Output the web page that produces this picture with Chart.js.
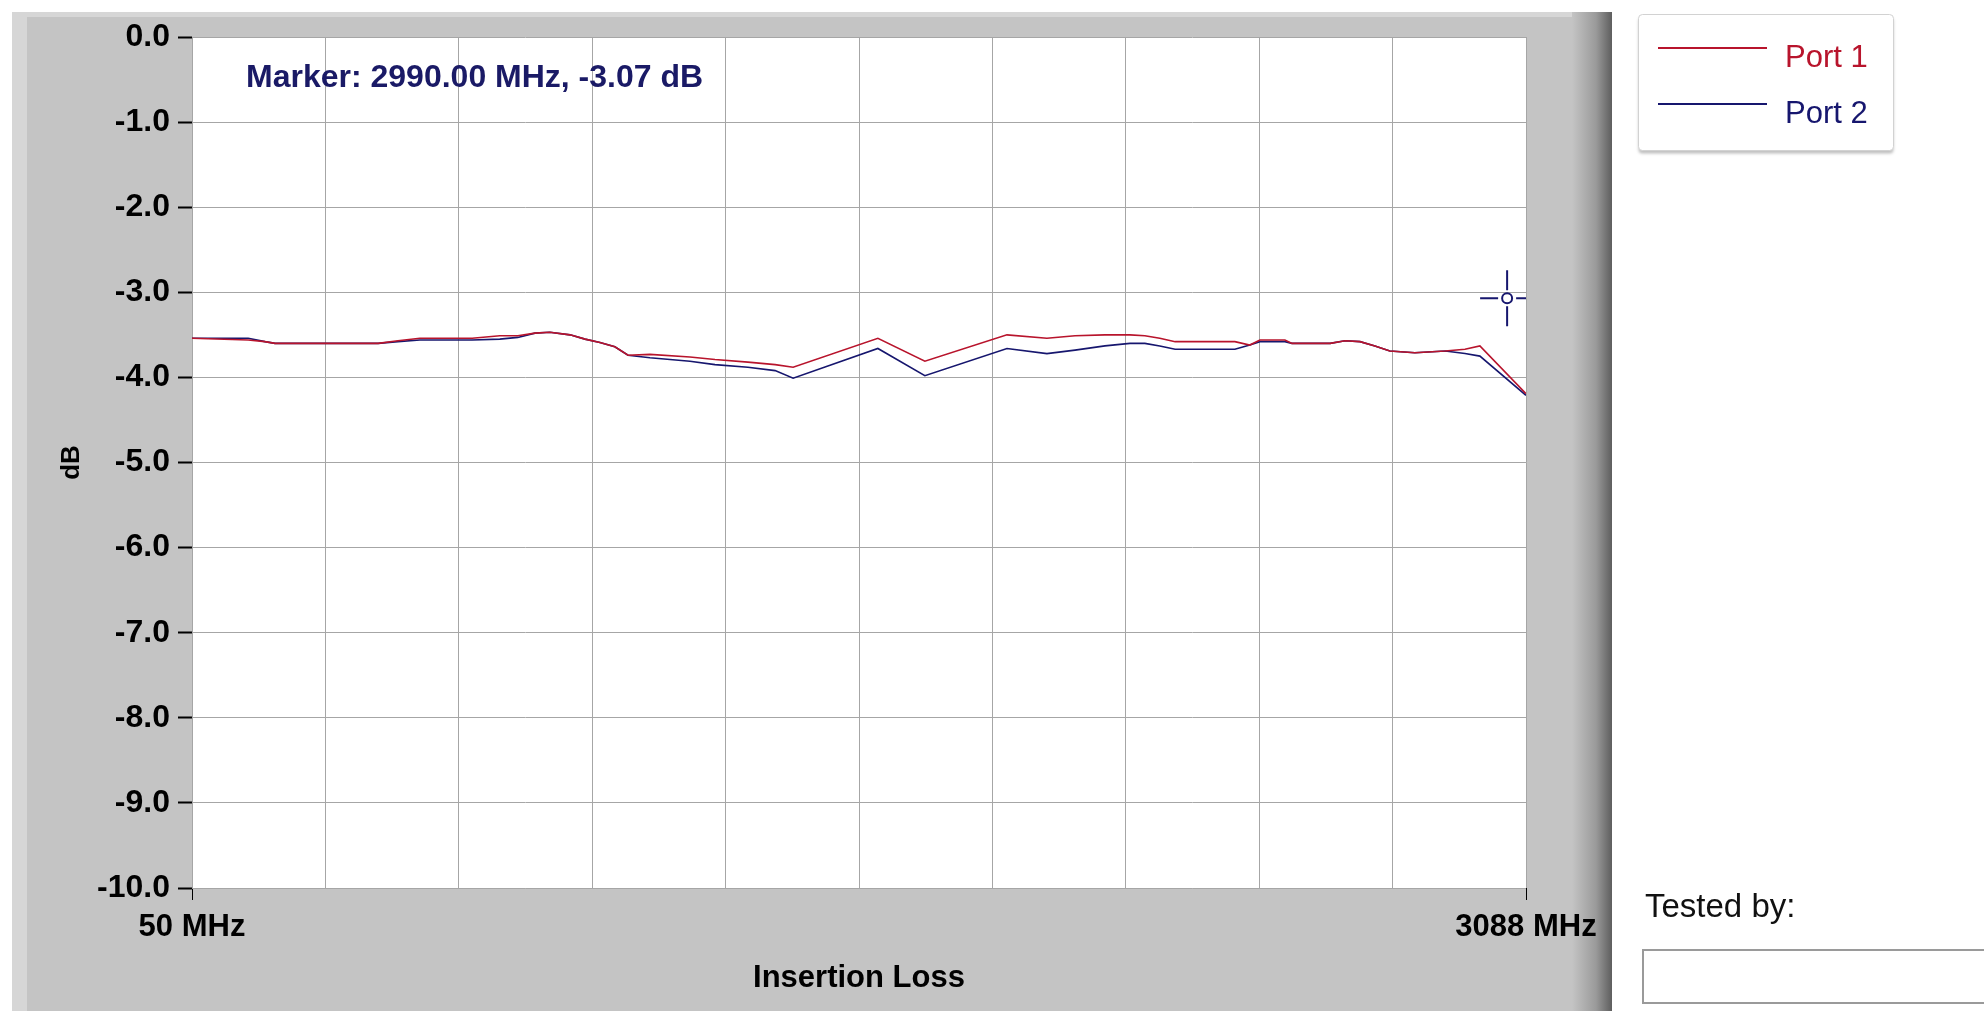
<!DOCTYPE html>
<html lang="en">
<head>
    <meta charset="UTF-8">
    <title>Insertion Loss</title>
    <script src="https://cdn.jsdelivr.net/npm/chart.js"></script>
    <style>
        body{
            margin:0;
            background:#fff;
            overflow:hidden;
        }
        #wrap{ position:relative; width:1984px; height:1011px; }
        #tested{
            position:absolute; left:1645px; top:887px;
            font-family:'Liberation Sans', Arial, sans-serif; font-size:33px; color:#111;
        }
        #testedBox{
            position:absolute; left:1642px; top:949px; width:360px; height:55px;
            border:2px solid #9a9a9a; background:#fff; box-sizing:border-box;
        }
    </style>
</head>
<body>
<div id="wrap">
    <canvas id="myChart" width="1984" height="1011"></canvas>
    <div id="tested">Tested by:</div>
    <div id="testedBox"></div>
</div>

<script>
    const freqMHz = [50, 178, 216, 239, 474, 519, 569, 688, 751, 792, 831, 865, 911, 945, 979, 1013, 1043,
        1093, 1184, 1241, 1316, 1378, 1419, 1612, 1719, 1906, 1997, 2061, 2129, 2186, 2220, 2254, 2289,
        2425, 2459, 2482, 2539, 2555, 2642, 2676, 2710, 2744, 2778, 2835, 2904, 2949, 2983, 3088]
    const port1 = [-3.54, -3.56, -3.58, -3.60, -3.60, -3.57, -3.54, -3.54, -3.51, -3.51, -3.48, -3.47, -3.50, -3.55, -3.59, -3.64, -3.74,
        -3.73, -3.76, -3.79, -3.82, -3.85, -3.88, -3.54, -3.81, -3.50, -3.54, -3.51, -3.50, -3.50, -3.51, -3.54, -3.58,
        -3.58, -3.62, -3.56, -3.56, -3.60, -3.60, -3.57, -3.58, -3.63, -3.69, -3.71, -3.69, -3.67, -3.63, -4.19]
    const port2 = [-3.54, -3.54, -3.58, -3.60, -3.60, -3.58, -3.56, -3.56, -3.55, -3.53, -3.48, -3.47, -3.50, -3.55, -3.59, -3.64, -3.74,
        -3.77, -3.81, -3.85, -3.88, -3.92, -4.01, -3.66, -3.98, -3.66, -3.72, -3.68, -3.63, -3.60, -3.60, -3.63, -3.67,
        -3.67, -3.62, -3.58, -3.58, -3.60, -3.60, -3.57, -3.58, -3.63, -3.69, -3.71, -3.69, -3.72, -3.75, -4.21]

    const seriesNames = ['Port 1', 'Port 2']
    const xTicks = [50, 353.8, 657.6, 961.4, 1265.2, 1569, 1872.8, 2176.6, 2480.4, 2784.2, 3088]
    const yMin = -10, yMax = 0
    const markerLabel = 'Marker: 2990.00 MHz, -3.07 dB'
    const markerAt = { x: 3045, y: -3.07 }   // where the cursor sits on the plot

    const sans = "'Liberation Sans', Arial, sans-serif"
    const red = '#b8142c'
    const navy = '#16166e'

    // gray LabVIEW style panel behind the plot
    const panelBg = {
        id:'panelBg',
        beforeDraw(chart){
            const c = chart.ctx, a = chart.chartArea
            c.save()
            c.fillStyle = '#fff'
            c.fillRect(0, 0, chart.width, chart.height)
            c.fillStyle = '#c4c4c4'
            c.fillRect(12, 12, 1600, 1000)
            c.fillStyle = '#d6d6d6'
            c.fillRect(12, 12, 15, 1000)
            c.fillRect(12, 12, 1600, 5)
            let g = c.createLinearGradient(1572, 0, 1612, 0)
            g.addColorStop(0, '#c4c4c4')
            g.addColorStop(0.6, '#9a9a9a')
            g.addColorStop(1, '#5e5e5e')
            c.fillStyle = g
            c.fillRect(1572, 12, 40, 1000)
            c.fillStyle = '#fff'
            c.fillRect(a.left, a.top, a.right - a.left, a.bottom - a.top)
            c.restore()
        }
    }

    // marker text and crosshair cursor
    const markerPlugin = {
        id:'markerPlugin',
        afterDatasetsDraw(chart){
            const c = chart.ctx, a = chart.chartArea
            const px = chart.scales.x.getPixelForValue(markerAt.x)
            const py = chart.scales.y.getPixelForValue(markerAt.y)
            c.save()
            c.beginPath()
            c.rect(a.left, a.top, a.right - a.left, a.bottom - a.top)
            c.clip()
            c.strokeStyle = navy
            c.lineWidth = 2
            c.beginPath()
            c.arc(px, py, 5, 0, Math.PI * 2)
            c.moveTo(px - 9, py); c.lineTo(px - 27, py)
            c.moveTo(px + 9, py); c.lineTo(px + 27, py)
            c.moveTo(px, py - 8); c.lineTo(px, py - 28)
            c.moveTo(px, py + 8); c.lineTo(px, py + 28)
            c.stroke()
            c.restore()

            c.save()
            c.fillStyle = '#1a1a66'
            c.font = 'bold 32px ' + sans
            c.textBaseline = 'middle'
            c.fillText(markerLabel, 246, 78)
            c.restore()
        }
    }

    // legend box to the right of the panel
    const legendBox = {
        id:'legendBox',
        afterDraw(chart){
            const c = chart.ctx
            c.save()
            c.shadowColor = 'rgba(0,0,0,0.25)'
            c.shadowOffsetY = 3
            c.shadowBlur = 3
            c.fillStyle = '#fff'
            c.beginPath()
            c.roundRect(1638.5, 14.5, 255, 136, 4)
            c.fill()
            c.shadowColor = 'transparent'
            c.strokeStyle = '#d2d2d2'
            c.lineWidth = 1
            c.stroke()
            chart.data.datasets.forEach((ds, i) => {
                const y = 48 + i * 56
                c.strokeStyle = ds.borderColor
                c.lineWidth = 2
                c.beginPath()
                c.moveTo(1658, y); c.lineTo(1767, y)
                c.stroke()
                c.fillStyle = ds.borderColor
                c.font = '31px ' + sans
                c.textBaseline = 'middle'
                c.fillText(ds.label, 1785, y + 10)
            })
            c.restore()
        }
    }

    const ctx = document.getElementById('myChart')
    const myChart = new Chart(ctx, {
        type:'line',
        data:{
            datasets:[
                { label: seriesNames[0], data: freqMHz.map((f, i) => ({ x: f, y: port1[i] })),
                  borderColor: red, borderWidth: 1.6, pointRadius: 0, tension: 0 },
                { label: seriesNames[1], data: freqMHz.map((f, i) => ({ x: f, y: port2[i] })),
                  borderColor: navy, borderWidth: 1.6, pointRadius: 0, tension: 0 }
            ]
        },
        options:{
            responsive:false,
            animation:false,
            devicePixelRatio:1,
            layout:{ padding:{ left:0, top:37, right:458, bottom:0 } },
            plugins:{ legend:{ display:false }, tooltip:{ enabled:false } },
            scales:{
                x:{
                    type:'linear', min:50, max:3088,
                    afterBuildTicks: s => { s.ticks = xTicks.map(v => ({ value: v })) },
                    afterFit: s => { s.height = 123 },
                    ticks:{
                        autoSkip:false, maxRotation:0, padding:9, color:'#000',
                        font:{ family: sans, size:31, weight:'bold' },
                        callback: (v, i, t) => (i === 0 || i === t.length - 1) ? v + ' MHz' : ''
                    },
                    grid:{
                        color:'#a6a6a6', lineWidth:1, tickLength:12,
                        tickColor: c => (c.index === 0 || c.index === xTicks.length - 1) ? '#000' : 'rgba(0,0,0,0)'
                    },
                    border:{ display:false },
                    title:{ display:true, text:'Insertion Loss', color:'#000',
                        font:{ family: sans, size:31, weight:'bold' }, padding:{ top:0, bottom:14 } }
                },
                y:{
                    min:yMin, max:yMax,
                    afterFit: s => { s.width = 192 },
                    ticks:{
                        stepSize:1, padding:8, color:'#000',
                        font:{ family: sans, size:32, weight:'bold' },
                        callback: v => v.toFixed(1)
                    },
                    grid:{ color:'#a6a6a6', lineWidth:1, tickLength:14, tickColor:'#000', tickWidth:2 },
                    border:{ display:false },
                    title:{ display:true, text:'dB', color:'#000',
                        font:{ family: sans, size:26, weight:'bold' }, padding:{ top:56, bottom:0 } }
                }
            }
        },
        plugins:[panelBg, markerPlugin, legendBox]
    })
</script>
</body>
</html>
